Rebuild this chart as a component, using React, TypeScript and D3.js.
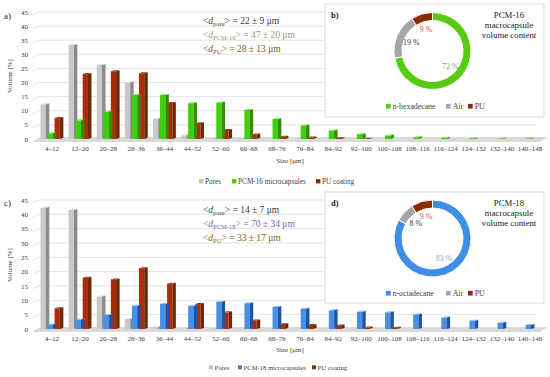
import React from 'react';
import * as d3 from 'd3';

const SIZES = ['4–12', '12–20', '20–28', '28–36', '36–44', '44–52', '52–60', '60–68', '68–76', '76–84', '84–92', '92–100', '100–108', '108–116', '116–124', '124–132', '132–140', '140–148'];
const Y_TICKS = [0, 5, 10, 15, 20, 25, 30, 35, 40, 45];

// panel a) PCM-16
const PORES_16 = [12.3, 33.3, 26.2, 20.0, 7.3, 1.3, 0.3, 0.2, 0.1, 0, 0, 0, 0, 0, 0, 0, 0, 0];
const PCM_16 = [2.0, 6.6, 9.7, 15.6, 15.6, 12.7, 12.9, 10.3, 7.1, 4.8, 3.0, 1.7, 1.2, 0.6, 0.4, 0.3, 0.2, 0.2];
const PU_16 = [7.4, 23.0, 24.0, 23.3, 12.8, 5.6, 3.2, 1.6, 0.8, 0.5, 0.3, 0.1, 0, 0, 0, 0, 0, 0];

// panel c) PCM-18
const PORES_18 = [42.3, 41.5, 11.3, 3.5, 0.8, 0.3, 0.2, 0.1, 0, 0, 0, 0, 0, 0, 0, 0, 0, 0];
const PCM_18 = [1.6, 3.3, 4.9, 8.1, 8.8, 8.0, 9.5, 9.0, 7.7, 7.1, 6.5, 6.0, 5.8, 5.1, 4.0, 2.9, 2.2, 1.4];
const PU_18 = [7.2, 17.9, 17.3, 21.2, 15.8, 8.7, 5.8, 3.0, 1.7, 1.4, 1.2, 0.5, 0.4, 0, 0, 0, 0, 0];

// insets b) and d)
const CONTENT_16 = [72, 19, 9];
const CONTENT_16_NAMES = ['n-hexadecane', 'Air', 'PU'];
const CONTENT_18 = [83, 8, 9];
const CONTENT_18_NAMES = ['n-octadecane', 'Air', 'PU'];

const FONT = '"Liberation Serif", "DejaVu Serif", serif';

const GRAY = { front: '#c9c9c9', side: '#8c8c8c', top: '#dedede' };
const GREEN = { front: '#3fd00c', side: '#3a8a08', top: '#86e25a' };
const BLUE = { front: '#4a8fe6', side: '#1f55a0', top: '#8cb8f0' };
const BROWN = { front: '#b02a0c', side: '#6a2a06', top: '#7a3410' };

interface Series { values: number[]; col: { front: string; side: string; top: string }; name: string }

const Bars3D: React.FC<{ y0: number; y45: number; series: Series[] }> = ({ y0, y45, series }) => {
  const x = d3.scaleBand<string>().domain(SIZES).range([38, 544]).paddingInner(0.25).paddingOuter(0.12);
  const xs = d3.scaleBand<string>().domain(series.map((s) => s.name)).range([0, x.bandwidth()]).padding(0);
  const y = d3.scaleLinear().domain([0, 45]).range([y0, y45]);
  const w = xs.bandwidth() * 1.25;
  const fw = w * 0.6;
  const d = w - fw;
  const dy = 1;
  // middle series (microcapsules) drawn last, in front
  const order = [0, 2, 1];
  return (
    <g>
      {Y_TICKS.map((t) => (
        <g key={t}>
          <path d={`M33,${y(t) + 3}L38,${y(t)}L537,${y(t)}`} fill="none" stroke="#d9d9d9" strokeWidth={0.7} />
          <text x={28} y={y(t) + 2.5} textAnchor="end" fontSize={7} fill="#404040">{t}</text>
        </g>
      ))}
      <path d={`M34,${y0 + 2.5}L540,${y0 + 2.5}L546,${y0 - 1.5}L40,${y0 - 1.5}Z`} fill="#d9d9d9" stroke="#c8c8c8" strokeWidth={0.5} />
      {SIZES.map((c, i) => (
        <g key={c}>
          {order.map((k) => {
            const s = series[k];
            const v = s.values[i];
            if (!v) return null;
            const bx = (x(c) || 0) + (xs(s.name) || 0) + xs.bandwidth() / 2 - w / 2;
            const top = y(v);
            return (
              <g key={s.name}>
                <rect x={bx} y={top} width={fw} height={y0 - top} fill={s.col.front} />
                <path d={`M${bx + fw},${top}L${bx + fw + d},${top - dy}L${bx + fw + d},${y0 - dy}L${bx + fw},${y0}Z`} fill={s.col.side} />
                <path d={`M${bx},${top}L${bx + d},${top - dy}L${bx + fw + d},${top - dy}L${bx + fw},${top}Z`} fill={s.col.top} />
              </g>
            );
          })}
          <text x={(x(c) || 0) + x.bandwidth() / 2} y={y0 + 12} textAnchor="middle" fontSize={7} fill="#404040">{c}</text>
        </g>
      ))}
    </g>
  );
};

const Annot: React.FC<{ x: number; y: number; sub: string; rest: string; color: string }> = ({ x, y, sub, rest, color }) => (
  <text x={x} y={y} fontSize={9.5} fill={color}>
    {'<'}
    <tspan fontStyle="italic">d</tspan>
    <tspan fontSize={6.5} dy={2}>{sub}</tspan>
    <tspan dy={-2}>{'> = ' + rest}</tspan>
  </text>
);

const Donut: React.FC<{ cx: number; cy: number; values: number[]; names: string[]; colors: string[]; labelColors: string[] }> = ({ cx, cy, values, names, colors, labelColors }) => {
  const pie = d3.pie<number>().sort(null).value((v) => v);
  const arcs = pie(values);
  const arc = d3.arc<d3.PieArcDatum<number>>().innerRadius(30.5).outerRadius(38.5);
  const labelArc = d3.arc<d3.PieArcDatum<number>>().innerRadius(23).outerRadius(23);
  return (
    <g transform={`translate(${cx},${cy})`}>
      {arcs.map((a, i) => (
        <path key={names[i]} d={arc(a) || ''} fill={colors[i]} stroke="#fff" strokeWidth={1} />
      ))}
      {arcs.map((a, i) => {
        const [lx, ly] = labelArc.centroid(a);
        return (
          <text key={names[i]} x={lx} y={ly + 3} textAnchor="middle" fontSize={8} fill={labelColors[i]}>{values[i] + ' %'}</text>
        );
      })}
    </g>
  );
};

const Legend: React.FC<{ x: number[]; y: number; names: string[]; colors: string[]; fs: number }> = ({ x, y, names, colors, fs }) => (
  <g>
    {names.map((n, i) => (
      <g key={n}>
        <rect x={x[i]} y={y - fs * 0.4} width={fs * 0.6} height={fs * 0.6} fill={colors[i]} />
        <text x={x[i] + fs * 0.85} y={y + fs * 0.3} fontSize={fs} fill="#404040">{n}</text>
      </g>
    ))}
  </g>
);

const Inset: React.FC<{ y: number; h: number; tag: string; title: string; cy: number; values: number[]; names: string[]; colors: string[]; labelColors: string[]; legY: number }> = (p) => (
  <g>
    <rect x={325} y={p.y} width={219} height={p.h} fill="#fff" stroke="#d0d0d0" strokeWidth={0.8} />
    <text x={331} y={p.y + 14} fontSize={8.5} fontWeight="bold" fill="#222">{p.tag}</text>
    {[p.title, 'macrocapsule', 'volume content'].map((t, i) => (
      <text key={t} x={509} y={p.y + 14 + i * 10} textAnchor="middle" fontSize={8.8} fill="#222">{t}</text>
    ))}
    <Donut cx={432.5} cy={p.cy} values={p.values} names={p.names} colors={p.colors} labelColors={p.labelColors} />
    <Legend x={[386, 446, 468]} y={p.legY} names={p.names} colors={p.colors} fs={7.8} />
  </g>
);

export default function App() {
  return (
    <svg width={550} height={377} style={{ position: 'absolute', left: 0, top: 0, background: '#fff' }} fontFamily={FONT}>
      {/* a) */}
      <text x={4} y={19} fontSize={9} fill="#222">a)</text>
      <text transform="translate(12,76) rotate(-90)" textAnchor="middle" fontSize={7} fill="#404040">Volume [%]</text>
      <Bars3D y0={139} y45={12} series={[
        { values: PORES_16, col: GRAY, name: 'Pores' },
        { values: PCM_16, col: GREEN, name: 'PCM' },
        { values: PU_16, col: BROWN, name: 'PU' },
      ]} />
      <text x={290} y={163} textAnchor="middle" fontSize={7} fill="#404040">Size [μm]</text>
      <Legend x={[199, 232, 316]} y={182} names={['Pores', 'PCM-16 microcapsules', 'PU coating']} colors={['#bfbfbf', '#4fc010', '#7a3000']} fs={7.2} />
      <Annot x={203} y={24} sub="pore" rest="22 ± 9 μm" color="#404040" />
      <Annot x={203} y={38} sub="PCM-16" rest="47 ± 20 μm" color="#8aa383" />
      <Annot x={203} y={52} sub="PU" rest="28 ± 13 μm" color="#7f5a10" />
      <Inset y={4} h={113} tag="b)" title="PCM-16" cy={51} values={CONTENT_16} names={CONTENT_16_NAMES}
        colors={['#55cc10', '#a6a6a6', '#8b2c00']} labelColors={['#7d9a70', '#333', '#d05040']} legY={107} />

      {/* c) */}
      <text x={4} y={206} fontSize={9} fill="#222">c)</text>
      <text transform="translate(12,265) rotate(-90)" textAnchor="middle" fontSize={7} fill="#404040">Volume [%]</text>
      <Bars3D y0={329} y45={200} series={[
        { values: PORES_18, col: GRAY, name: 'Pores' },
        { values: PCM_18, col: BLUE, name: 'PCM' },
        { values: PU_18, col: BROWN, name: 'PU' },
      ]} />
      <text x={290} y={352} textAnchor="middle" fontSize={7} fill="#404040">Size [μm]</text>
      <Legend x={[209, 238, 312]} y={368} names={['Pores', 'PCM-18 microcapsules', 'PU coating']} colors={['#bfbfbf', '#3d7fdc', '#7a3000']} fs={6.6} />
      <Annot x={203} y={213} sub="pore" rest="14 ± 7 μm" color="#404040" />
      <Annot x={203} y={227} sub="PCM-18" rest="70 ± 34 μm" color="#7068c8" />
      <Annot x={203} y={241} sub="PU" rest="33 ± 17 μm" color="#8a6410" />
      <Inset y={192} h={111} tag="d)" title="PCM-18" cy={238.5} values={CONTENT_18} names={CONTENT_18_NAMES}
        colors={['#3f8ee6', '#a6a6a6', '#8b2c00']} labelColors={['#8eaad0', '#333', '#d05040']} legY={294} />
    </svg>
  );
}
